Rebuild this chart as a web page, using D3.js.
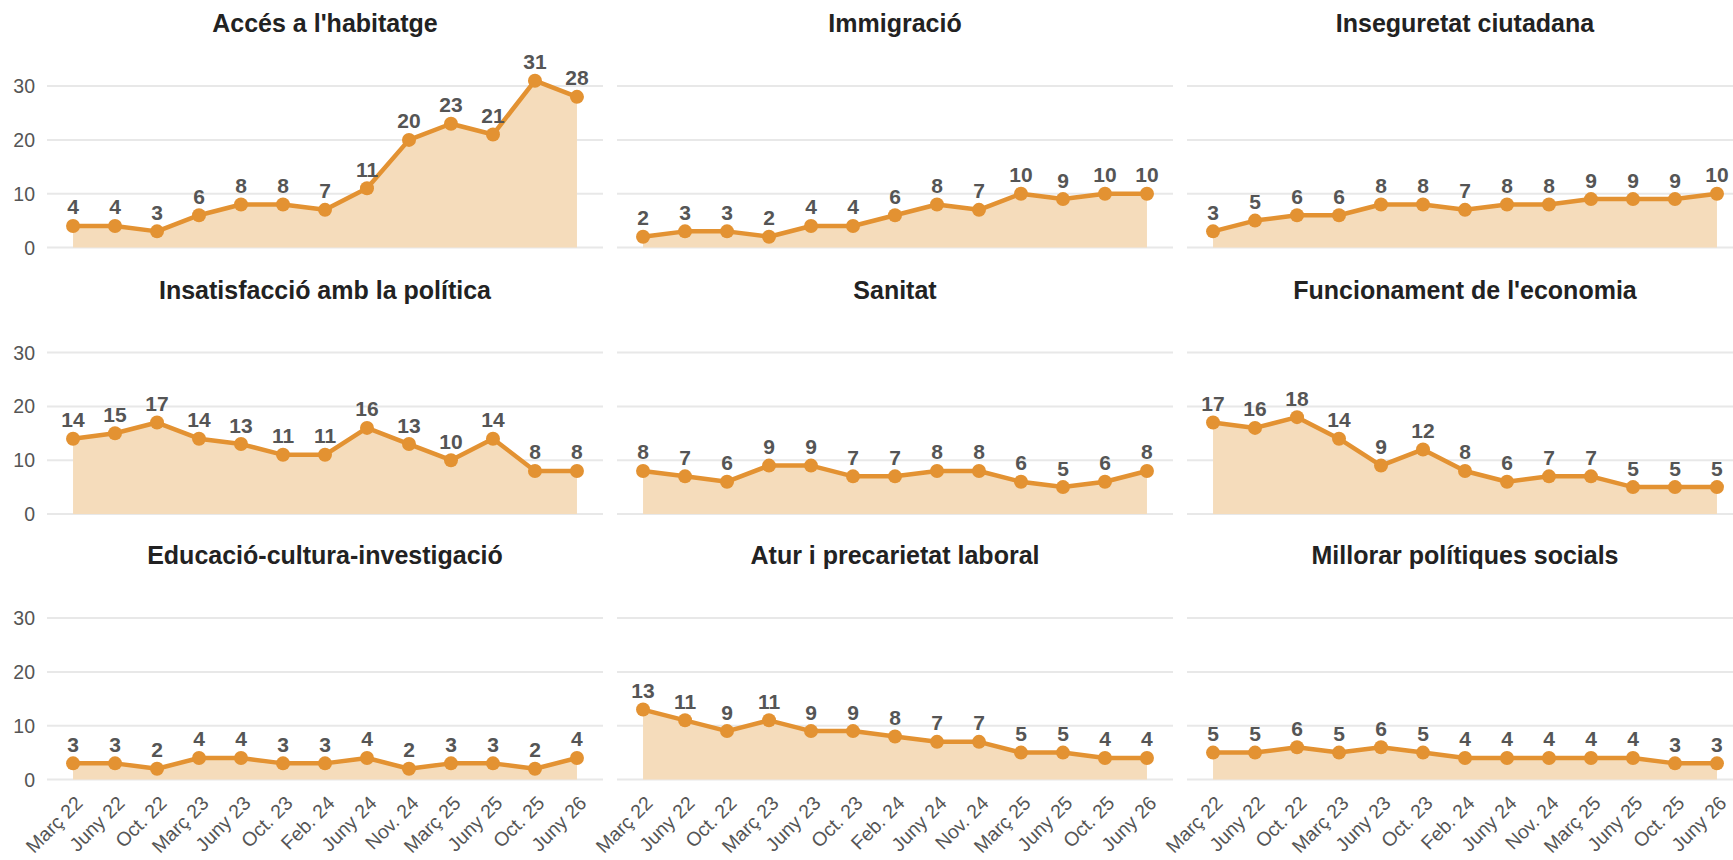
<!DOCTYPE html>
<html>
<head>
<meta charset="utf-8">
<script src="https://cdn.jsdelivr.net/npm/d3@7"></script>
<style>
  html, body { margin: 0; padding: 0; background: #fff; }
  svg { display: block; font-family: "Liberation Sans", Arial, Helvetica, sans-serif; }
</style>
</head>
<body>
<div id="chart"></div>
<script>
// waves of the survey
const dates = ["Març 22", "Juny 22", "Oct. 22", "Març 23", "Juny 23", "Oct. 23", "Feb. 24",
  "Juny 24", "Nov. 24", "Març 25", "Juny 25", "Oct. 25", "Juny 26"];

const titles = ["Accés a l'habitatge", "Immigració", "Inseguretat ciutadana",
  "Insatisfacció amb la política", "Sanitat", "Funcionament de l'economia",
  "Educació-cultura-investigació", "Atur i precarietat laboral", "Millorar polítiques socials"];

const habitatge = [4, 4, 3, 6, 8, 8, 7, 11, 20, 23, 21, 31, 28];
const immigracio = [2, 3, 3, 2, 4, 4, 6, 8, 7, 10, 9, 10, 10];
const inseguretat = [3, 5, 6, 6, 8, 8, 7, 8, 8, 9, 9, 9, 10];
const politica = [14, 15, 17, 14, 13, 11, 11, 16, 13, 10, 14, 8, 8];
const sanitat = [8, 7, 6, 9, 9, 7, 7, 8, 8, 6, 5, 6, 8];
const economia = [17, 16, 18, 14, 9, 12, 8, 6, 7, 7, 5, 5, 5];
const educacio = [3, 3, 2, 4, 4, 3, 3, 4, 2, 3, 3, 2, 4];
const atur = [13, 11, 9, 11, 9, 9, 8, 7, 7, 5, 5, 4, 4];
const socials = [5, 5, 6, 5, 6, 5, 4, 4, 4, 4, 4, 3, 3];

const series = [habitatge, immigracio, inseguretat, politica, sanitat, economia, educacio, atur, socials];
const yTicks = [0, 10, 20, 30];

const width = 1733, height = 860;
const colLeft = [47, 617, 1187];
const plotW = 556;
const rowZero = [247.5, 514, 779.5];
const unit = 5.38; // px per point
const lineColor = "#e39232";
const areaColor = "#f5dcbb";

const svg = d3.select("#chart").append("svg")
  .attr("width", width)
  .attr("height", height);

series.forEach((vals, i) => {
  const col = i % 3, row = Math.floor(i / 3);
  const x = d3.scalePoint().domain(dates).range([colLeft[col], colLeft[col] + plotW]).padding(0.62);
  const y = d3.scaleLinear().domain([0, 30]).range([rowZero[row], rowZero[row] - 30 * unit]);
  const g = svg.append("g");

  // gridlines
  g.selectAll(".grid").data(yTicks).join("line")
    .attr("x1", colLeft[col]).attr("x2", colLeft[col] + plotW)
    .attr("y1", d => y(d)).attr("y2", d => y(d))
    .attr("stroke", "#e8e8e8").attr("stroke-width", 2);

  // y labels only first column
  if (col === 0) {
    g.selectAll(".ylab").data(yTicks).join("text")
      .attr("x", 35).attr("y", d => y(d)).attr("dy", "0.36em")
      .attr("text-anchor", "end").attr("fill", "#555")
      .attr("font-size", 19.5)
      .text(d => d);
  }

  const pts = vals.map((v, j) => ({ d: dates[j], v }));

  g.append("path").datum(pts)
    .attr("fill", areaColor)
    .attr("d", d3.area().x(p => x(p.d)).y0(y(0)).y1(p => y(p.v)));

  g.append("path").datum(pts)
    .attr("fill", "none").attr("stroke", lineColor).attr("stroke-width", 4.5)
    .attr("stroke-linejoin", "round")
    .attr("d", d3.line().x(p => x(p.d)).y(p => y(p.v)));

  g.selectAll(".dot").data(pts).join("circle")
    .attr("cx", p => x(p.d)).attr("cy", p => y(p.v)).attr("r", 7)
    .attr("fill", lineColor);

  g.selectAll(".val").data(pts).join("text")
    .attr("x", p => x(p.d)).attr("y", p => y(p.v) - 11.5)
    .attr("text-anchor", "middle").attr("fill", "#555")
    .attr("font-size", 21).attr("font-weight", "bold")
    .text(p => p.v);

  // title
  g.append("text")
    .attr("x", colLeft[col] + plotW / 2).attr("y", rowZero[row] - 215.5)
    .attr("text-anchor", "middle").attr("fill", "#222")
    .attr("font-size", 25).attr("font-weight", "bold")
    .text(titles[i]);

  // x labels on bottom row
  if (row === 2) {
    g.selectAll(".xlab").data(dates).join("text")
      .attr("transform", d => `translate(${x(d) + 6},${rowZero[row] + 20}) rotate(-45)`)
      .attr("text-anchor", "end").attr("dy", "0.35em")
      .attr("fill", "#555").attr("font-size", 19.5)
      .text(d => d);
  }
});
</script>
</body>
</html>
